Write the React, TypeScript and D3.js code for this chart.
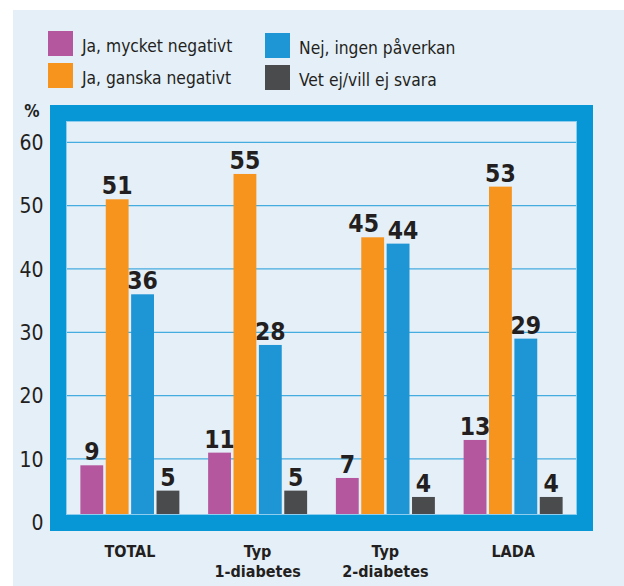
import React from "react";
import * as d3 from "d3";

const categories = ["TOTAL", "Typ\n1-diabetes", "Typ\n2-diabetes", "LADA"];
const seriesNames = [
  "Ja, mycket negativt",
  "Ja, ganska negativt",
  "Nej, ingen påverkan",
  "Vet ej/vill ej svara",
];
const seriesColors = ["#b5579f", "#f7941d", "#1e95d4", "#4a4b4d"];
const mycketNegativt = [9, 11, 7, 13];
const ganskaNegativt = [51, 55, 45, 53];
const ingenPaverkan = [36, 28, 44, 29];
const vetEj = [5, 5, 4, 4];
const yTicks = [0, 10, 20, 30, 40, 50, 60];

const seriesValues = [mycketNegativt, ganskaNegativt, ingenPaverkan, vetEj];

// horizontal nudges for value labels that would otherwise collide
const labelNudge: Record<string, number> = {
  "2-1": -9,
  "2-2": 5,
};

const W = 624;
const H = 586;
const BG = "#e5eff8";
const FRAME = "#0796d6";
const GRID = "#45ace0";
const INK = "#231f20";
const FONT = "'DejaVu Sans Condensed', 'DejaVu Sans', sans-serif";

export default function App() {
  const inner = { left: 66, right: 577, top: 121, bottom: 515 };
  const x0 = d3
    .scaleBand<string>()
    .domain(categories)
    .range([inner.left, inner.right])
    .padding(0);
  const groupW = 99;
  const x1 = d3
    .scaleBand<string>()
    .domain(seriesNames)
    .range([0, groupW])
    .paddingInner(0.1);
  const y = d3.scaleLinear().domain([0, 60]).range([522.3, 142.3]);
  const frameW = 16;

  const legend = seriesNames.map((name, i) => ({
    name,
    color: seriesColors[i],
    x: i < 2 ? 48 : 265,
    y: (i < 2 ? 31 : 33) + (i % 2) * 32,
  }));

  return (
    <svg
      width={W}
      height={H}
      style={{ position: "absolute", left: 0, top: 0 }}
      fontFamily={FONT}
    >
      <rect x={0} y={0} width={W} height={H} fill="#ffffff" />
      <rect x={13} y={10} width={W - 13} height={H - 10} fill={BG} />

      {/* legend */}
      {legend.map((d) => (
        <g key={d.name}>
          <rect x={d.x} y={d.y} width={25} height={25} fill={d.color} />
          <text x={d.x + 34} y={d.y + 20.5} fontSize={17.3} fill={INK}>
            {d.name}
          </text>
        </g>
      ))}

      {/* gridlines */}
      {yTicks
        .filter((t) => t > 0)
        .map((t) => (
          <line
            key={t}
            x1={inner.left}
            x2={inner.right}
            y1={y(t)}
            y2={y(t)}
            stroke={GRID}
            strokeWidth={1.3}
          />
        ))}

      {/* bars */}
      {categories.map((c, ci) => {
        const gx = (x0(c) ?? 0) + (x0.bandwidth() - groupW) / 2;
        return (
          <g key={c}>
            {seriesNames.map((s, si) => {
              const v = seriesValues[si][ci];
              const bx = gx + (x1(s) ?? 0);
              const nudge = labelNudge[`${ci}-${si}`] ?? 0;
              return (
                <g key={s}>
                  <rect
                    x={bx}
                    y={y(v)}
                    width={x1.bandwidth()}
                    height={y(0) - y(v)}
                    fill={seriesColors[si]}
                  />
                  <text
                    x={bx + x1.bandwidth() / 2 + nudge}
                    y={y(v) - 5}
                    textAnchor="middle"
                    fontSize={24.5}
                    fontWeight="bold"
                    fill={INK}
                  >
                    {v}
                  </text>
                </g>
              );
            })}
          </g>
        );
      })}

      {/* frame around plot */}
      <rect
        x={inner.left + 0.5}
        y={inner.top + 0.5}
        width={inner.right - inner.left - 1}
        height={inner.bottom - inner.top - 1}
        fill="none"
        stroke="#8fcdee"
        strokeWidth={1}
      />
      <rect
        x={inner.left - frameW / 2}
        y={inner.top - frameW / 2}
        width={inner.right - inner.left + frameW}
        height={inner.bottom - inner.top + frameW}
        fill="none"
        stroke={FRAME}
        strokeWidth={frameW}
      />

      {/* y axis */}
      <text x={39.5} y={117} textAnchor="end" fontSize={17} fontWeight="bold" fill={INK}>
        %
      </text>
      {yTicks.map((t) => (
        <text
          key={t}
          x={43.5}
          y={y(t)}
          dy="0.36em"
          textAnchor="end"
          fontSize={21}
          fill={INK}
        >
          {t}
        </text>
      ))}

      {/* category labels */}
      {categories.map((c) => {
        const cx = (x0(c) ?? 0) + x0.bandwidth() / 2;
        return c.split("\n").map((l, i) => (
          <text
            key={c + i}
            x={cx}
            y={557 + i * 19.5}
            textAnchor="middle"
            fontSize={16}
            fontWeight="bold"
            fill={INK}
          >
            {l}
          </text>
        ));
      })}
    </svg>
  );
}
